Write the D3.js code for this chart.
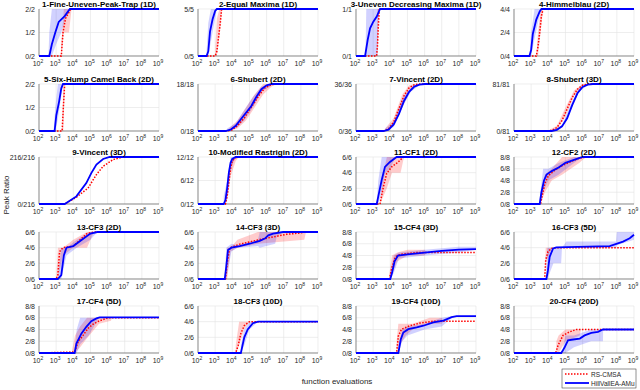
<!DOCTYPE html>
<html>
<head>
<meta charset="utf-8">
<script src="https://cdn.jsdelivr.net/npm/d3@7"></script>
<style>
  body { margin: 0; background: #fff; }
  text { font-family: "Liberation Sans", Arial, sans-serif; }
</style>
</head>
<body>
<div id="chart"></div>
<script>
// panel titles and number of global optima
var titles = ["1-Fine-Uneven-Peak-Trap (1D)", "2-Equal Maxima (1D)", "3-Uneven Decreasing Maxima (1D)", "4-Himmelblau (2D)",
  "5-Six-Hump Camel Back (2D)", "6-Shubert (2D)", "7-Vincent (2D)", "8-Shubert (3D)",
  "9-Vincent (3D)", "10-Modified Rastrigin (2D)", "11-CF1 (2D)", "12-CF2 (2D)",
  "13-CF3 (2D)", "14-CF3 (3D)", "15-CF4 (3D)", "16-CF3 (5D)",
  "17-CF4 (5D)", "18-CF3 (10D)", "19-CF4 (10D)", "20-CF4 (20D)"];
var peaks = [2, 5, 1, 4, 2, 18, 36, 81, 216, 12, 6, 8, 6, 6, 8, 6, 8, 6, 8, 8];
var yTicks = [[0, 1, 2], [0, 5], [0, 1], [0, 2, 4], [0, 1, 2], [0, 18], [0, 36], [0, 81], [0, 216], [0, 6, 12],
  [0, 2, 4, 6], [0, 2, 4, 6, 8], [0, 2, 4, 6], [0, 2, 4, 6], [0, 2, 4, 6, 8], [0, 2, 4, 6], [0, 2, 4, 6, 8],
  [0, 2, 4, 6], [0, 2, 4, 6, 8], [0, 2, 4, 6, 8]];
var xExponents = [2, 3, 4, 5, 6, 7, 8, 9];

// median curves: [log10(evaluations), peaks found]
var rsLine = [
  [[2,0],[3.3,0],[3.4,1],[3.55,1.6],[3.7,1.8],[3.85,2],[9,2]],
  [[2,0],[3.0,0],[3.1,0.5],[3.2,2],[3.3,3.5],[3.38,5],[9,5]],
  [[2,0],[3.2,0],[3.25,0.2],[3.3,0.6],[3.36,1],[9,1]],
  [[2,0],[3.3,0],[3.4,0.8],[3.5,2],[3.6,3.4],[3.7,4],[9,4]],
  [[2,0],[3.35,0],[3.42,1],[3.5,2],[9,2]],
  [[2,0],[3.7,0],[4.0,0.5],[4.3,2],[4.7,5],[5.0,8],[5.3,11],[5.6,14],[5.9,16.5],[6.3,17.8],[6.6,18],[9,18]],
  [[2,0],[3.6,0],[3.9,1.5],[4.2,7],[4.5,17],[4.8,27],[5.1,33],[5.4,35.5],[5.7,36],[9,36]],
  [[2,0],[3.9,0],[4.2,1],[4.5,6],[4.8,18],[5.1,38],[5.4,58],[5.7,72],[6.0,79],[6.3,81],[9,81]],
  [[2,0],[3.5,0],[4.18,31],[4.86,73],[5.35,135],[5.74,173],[6.32,204],[6.9,216],[9,216]],
  [[2,0],[3.6,0],[3.7,2],[3.8,5.5],[3.9,9],[4.0,11],[4.2,11.8],[4.4,12],[9,12]],
  [[2,0],[3.4,0],[3.6,2.2],[3.79,3.9],[4.08,4.74],[4.47,5.37],[4.76,6],[9,6]],
  [[2,0],[3.55,0],[3.65,1.5],[3.8,3.5],[4.0,4.8],[4.4,5.8],[4.8,6.5],[5.3,7.2],[5.8,7.8],[6.2,8],[9,8]],
  [[2,0],[3.0,0],[3.1,0.5],[3.2,3.5],[3.4,4],[4.0,4.2],[4.4,5],[4.8,5.8],[5.2,6],[9,6]],
  [[2,0],[3.6,0],[3.7,2],[3.85,4],[4.43,4.45],[5.6,5.03],[6.38,5.37],[7.16,5.7],[7.93,5.87],[8.3,6],[9,6]],
  [[2,0],[3.95,0],[4.1,2],[4.3,3.8],[4.6,4.2],[5.5,4.5],[9,4.5]],
  [[2,0],[3.79,0],[3.85,2.4],[3.98,3.48],[4.18,3.91],[4.47,4],[9,4]],
  [[2,0],[4.08,0.17],[4.28,1.9],[4.57,3.0],[4.86,4.2],[5.15,4.9],[5.54,5.5],[5.93,5.9],[6.12,6],[9,6]],
  [[2,0],[4.2,0],[4.35,1],[4.5,2.5],[4.7,3.5],[5.0,4],[9,4]],
  [[2,0],[4.37,0],[4.47,2.9],[4.66,4.06],[5.15,4.64],[5.74,5.1],[6.51,5.4],[9,5.4]],
  [[2,0],[4.43,0],[4.57,1.3],[4.86,3.0],[5.25,3.6],[5.64,4.0],[9,4]]
];
var hvLine = [
  [[2,0],[2.6,0],[2.75,0.5],[2.95,1],[3.15,1.45],[3.5,1.7],[3.8,2],[9,2]],
  [[2,0],[2.5,0],[2.6,0.5],[2.7,2.6],[2.85,3.9],[3.0,4.8],[3.1,5],[9,5]],
  [[2,0],[2.53,0],[2.68,0.34],[2.82,0.59],[3.01,0.73],[3.21,0.84],[3.4,1],[9,1]],
  [[2,0],[2.9,0],[3.0,0.5],[3.1,1.9],[3.3,3.1],[3.5,3.8],[3.6,4],[9,4]],
  [[2,0],[2.91,0],[3.01,0.67],[3.17,1.24],[3.3,1.81],[3.4,2],[9,2]],
  [[2,0],[3.6,0],[3.9,0.5],[4.2,2],[4.5,4.5],[4.8,7],[5.1,9.5],[5.4,13],[5.7,16],[6.0,17.5],[6.3,18],[9,18]],
  [[2,0],[3.6,0],[3.9,1],[4.2,5],[4.5,13],[4.8,23],[5.1,30],[5.4,34],[5.7,35.5],[6.0,36],[9,36]],
  [[2,0],[4.2,0],[4.5,2],[4.8,8],[5.1,22],[5.4,45],[5.7,65],[6.0,76],[6.3,80],[6.6,81],[9,81]],
  [[2,0],[3.5,0],[4.18,35],[4.76,96],[5.05,142],[5.35,181],[5.74,207],[6.12,216],[9,216]],
  [[2,0],[3.5,0],[3.6,1],[3.7,4],[3.8,8],[3.9,10.5],[4.0,11.5],[4.2,12],[9,12]],
  [[2,0],[3.21,0],[3.3,0.97],[3.5,3.06],[3.69,4.74],[3.98,5.37],[4.37,6],[9,6]],
  [[2,0],[3.5,0],[3.6,2],[3.75,4],[3.9,5],[4.2,5.6],[4.6,6.2],[5.0,7],[5.5,7.5],[6.0,8],[9,8]],
  [[2,0],[3.1,0],[3.3,0.5],[3.45,3],[3.6,4],[4.0,4.2],[4.5,5],[5.0,5.8],[5.4,6],[9,6]],
  [[2,0],[3.56,0],[3.65,1.6],[3.75,3.7],[3.95,4],[4.43,4.2],[5.02,4.5],[5.6,4.87],[5.9,5.16],[6.1,5.58],[6.38,5.8],[6.96,6],[9,6]],
  [[2,0],[4.0,0],[4.1,1],[4.25,3],[4.45,4],[5,4.2],[6,4.5],[7,4.8],[8,5],[9,5.1]],
  [[2,0],[3.89,0],[3.98,1.09],[4.08,2.83],[4.28,3.9],[4.47,4.04],[7.58,4.2],[7.97,4.48],[8.36,4.78],[8.75,5.2],[9,5.65]],
  [[2,0],[4.08,0],[4.18,1.6],[4.47,3.3],[4.76,4.46],[5.05,5.43],[5.35,5.9],[5.54,6.06],[9,6.06]],
  [[2,0],[4.5,0],[4.6,1],[4.7,2],[4.9,3],[5.2,3.8],[5.5,4],[9,4]],
  [[2,0],[4.47,0],[4.61,2.3],[4.76,3.48],[5.05,4.06],[5.54,4.35],[5.93,4.64],[6.51,5.2],[7.1,5.5],[7.58,6.1],[7.87,6.26],[9,6.26]],
  [[2,0],[4.76,0],[4.96,1.0],[5.15,2.17],[5.45,2.3],[5.84,2.46],[6.12,3.0],[6.51,3.43],[6.9,3.6],[7.19,4],[9,4]]
];

// spread bands: [log10(evaluations), low, high]
var rsBand = [
  [[3.3,0,0.5],[3.45,1,2],[3.75,1,2],[3.9,2,2]],
  [[3.0,0,0.5],[3.1,0,4],[3.25,2,5],[3.4,5,5]],
  [[3.2,0,0],[3.25,0,1],[3.36,1,1]],
  [[3.3,0,0],[3.4,0,2],[3.55,2,4],[3.7,4,4]],
  [[3.35,0,0],[3.42,0,2],[3.5,2,2]],
  [[3.8,0,1],[4.3,1,4],[4.8,4,9],[5.3,9,14],[5.8,14,18],[6.3,17,18],[6.6,18,18]],
  [[3.7,0,2],[4.2,4,10],[4.7,18,28],[5.1,30,35],[5.5,35,36],[5.7,36,36]],
  [[4.0,0,1],[4.5,3,9],[5.0,25,40],[5.5,60,70],[6.0,77,81],[6.3,81,81]],
  [],
  [[3.6,0,1],[3.75,2,7],[3.9,7,11],[4.2,11,12],[4.4,12,12]],
  [[3.4,0,0],[3.6,1,4],[3.8,2,6],[4.1,4,6],[4.6,4,6],[4.8,6,6]],
  [[3.55,0,1],[3.8,2,5],[4.2,4,6],[4.8,5,8],[5.8,7,8],[6.2,8,8]],
  [[3.0,0,0],[3.1,0,4],[3.4,3,4],[4.0,4,5],[4.8,4,6],[5.2,6,6]],
  [[3.6,0,0],[3.7,0,4],[3.9,3.5,4],[4.3,4,5],[5.5,4.5,6],[8.2,5,6],[8.3,6,6]],
  [[3.95,0,1],[4.1,1,4],[4.4,3,4.5],[5,4,5],[6,4,5],[6.1,4.5,4.5]],
  [[3.78,0,0],[3.85,2,4],[4.2,4,4]],
  [[3.9,0,0],[4.1,0,3],[4.4,1,4.5],[4.8,2.5,6],[5.5,5,6],[6.2,5.5,6],[6.25,6,6]],
  [[4.2,0,1],[4.4,1,4],[4.7,3,4],[5.0,4,4]],
  [[4.37,0,2],[4.47,1,5],[4.9,3,5],[5.3,4,5],[6.3,5,6],[7.0,5,6],[7.1,5.4,5.4]],
  [[4.47,0,2],[4.6,0,3],[5.0,2,4],[5.84,3,4],[5.9,4,4]]
];
var hvBand = [
  [[2.55,0,0],[2.6,0,1],[2.75,0,2],[3.0,0.5,2],[3.3,1,2],[3.5,1.5,2],[3.8,2,2]],
  [[2.5,0,0.5],[2.6,0,3.5],[2.75,1.5,5],[2.95,3.5,5],[3.1,5,5]],
  [[2.55,0,0],[2.6,0,1],[3.25,0,1],[3.3,1,1]],
  [[2.9,0,0],[3.0,0,2],[3.2,1.5,4],[3.5,3.5,4],[3.6,4,4]],
  [[2.85,0,0],[2.95,0,1],[3.1,0.5,2],[3.4,2,2]],
  [[3.7,0,1],[4.2,1,3],[4.7,4,8],[5.2,9,13],[5.7,15,17],[6.2,17,18],[6.3,18,18]],
  [[3.7,0,2],[4.2,3,7],[4.7,18,25],[5.2,30,33],[5.7,35,36],[6.0,36,36]],
  [[4.3,0,2],[4.8,6,10],[5.3,35,45],[5.8,68,74],[6.3,79,81],[6.6,81,81]],
  [],
  [[3.5,0,2],[3.7,2,6],[3.9,9,12],[4.2,12,12]],
  [[3.2,0,0],[3.3,0,3],[3.5,1.5,6],[3.7,4,6],[4.0,4.5,6],[4.3,6,6]],
  [[3.5,0,1],[3.7,2,6],[4.0,4,6],[4.6,5,7],[5.5,7,8],[6.0,8,8]],
  [[3.1,0,0],[3.3,0,4],[3.6,3,4],[4.2,4,5],[5.0,5,6],[5.4,6,6]],
  [[3.55,0,0],[3.65,0,4],[3.95,3.5,4.5],[4.3,4,4.3],[5.5,4.2,5],[5.6,4,6],[6.5,4.5,6],[6.6,5.5,6],[7,6,6]],
  [[4.0,0,1],[4.2,1,4],[4.5,3.5,4.5],[6,4,5],[8,4.5,5.5],[9,5,5.5]],
  [[3.85,0,0],[3.95,0,4],[4.3,2,4],[4.75,2,4],[4.8,4,4],[5.05,4,4.8],[7.95,4,4.8],[8.0,4.3,6],[9,5,6]],
  [[4.05,0,0],[4.2,0,4],[4.4,1.5,6],[4.9,3,6],[5.3,5,6],[5.5,6,6]],
  [[4.5,0,1],[4.7,1,3],[5.0,3,4],[5.5,4,4]],
  [[4.47,0,1],[4.7,2,4],[5.0,3,4.5],[6.0,4,5],[7.0,4.5,6],[7.6,6,6.3],[7.9,6.26,6.26]],
  [[4.86,0,1],[5.0,0,3],[5.5,1,3],[6.5,2,4],[7.19,2,4],[7.2,4,4]]
];

var width = 640, height = 390;
var colLeft = [39, 198, 356, 514], rowTop = [9, 84, 157, 232, 306];
var pw = 120, ph = 47;
var red = "#ff0000", blue = "#0000ff", axisColor = "#262626";

var svg = d3.select("#chart").append("svg")
  .attr("width", width)
  .attr("height", height);

titles.forEach(function (title, i) {
  var g = svg.append("g")
    .attr("transform", `translate(${colLeft[i % 4]}, ${rowTop[Math.floor(i / 4)]})`);

  var x = d3.scaleLog().domain([1e2, 1e9]).range([0, pw]);
  var y = d3.scaleLinear().domain([0, peaks[i]]).range([ph, 0]);
  var xs = e => x(Math.pow(10, e));

  // grid
  g.selectAll(".vg").data(xExponents).enter().append("line")
    .attr("x1", d => xs(d)).attr("x2", d => xs(d))
    .attr("y1", 0).attr("y2", ph)
    .attr("stroke", "#e3e3e3").attr("stroke-width", 0.6);
  g.selectAll(".hg").data(yTicks[i]).enter().append("line")
    .attr("x1", 0).attr("x2", pw)
    .attr("y1", d => y(d)).attr("y2", d => y(d))
    .attr("stroke", "#e3e3e3").attr("stroke-width", 0.6);

  // bands
  var area = d3.area().x(d => xs(d[0])).y0(d => y(d[1])).y1(d => y(d[2]));
  g.append("path").datum(rsBand[i]).attr("d", area)
    .attr("fill", red).attr("fill-opacity", 0.2);
  g.append("path").datum(hvBand[i]).attr("d", area)
    .attr("fill", blue).attr("fill-opacity", 0.18);

  // axes
  g.append("line").attr("x1", 0).attr("x2", pw).attr("y1", ph).attr("y2", ph)
    .attr("stroke", axisColor).attr("stroke-width", 0.5);
  g.append("line").attr("x1", 0).attr("x2", 0).attr("y1", 0).attr("y2", ph)
    .attr("stroke", axisColor).attr("stroke-width", 0.5);

  var xt = g.selectAll(".xt").data(xExponents).enter().append("text")
    .attr("x", d => xs(d) - 1)
    .attr("y", ph + 10)
    .attr("text-anchor", "middle")
    .attr("font-size", 7)
    .attr("fill", axisColor)
    .text("10");
  xt.append("tspan").attr("dy", -3).attr("font-size", 5).text(d => d);

  g.selectAll(".yt").data(yTicks[i]).enter().append("text")
    .attr("x", -4)
    .attr("y", d => y(d) + 2.5)
    .attr("text-anchor", "end")
    .attr("font-size", 7)
    .attr("fill", axisColor)
    .text(d => d + "/" + peaks[i]);

  // lines
  var line = d3.line().x(d => xs(d[0])).y(d => y(d[1]));
  g.append("path").datum(rsLine[i]).attr("d", line)
    .attr("fill", "none").attr("stroke", red)
    .attr("stroke-width", 1.5).attr("stroke-dasharray", "1.5,1.5");
  g.append("path").datum(hvLine[i]).attr("d", line)
    .attr("fill", "none").attr("stroke", blue).attr("stroke-width", 1.8);

  g.append("text")
    .attr("x", pw / 2).attr("y", -2)
    .attr("text-anchor", "middle")
    .attr("font-size", 8).attr("font-weight", "bold")
    .attr("fill", "#000")
    .text(title);
});

svg.append("text")
  .attr("transform", "translate(9, 195) rotate(-90)")
  .attr("text-anchor", "middle")
  .attr("font-size", 8)
  .attr("fill", axisColor)
  .text("Peak Ratio");

svg.append("text")
  .attr("x", 337).attr("y", 384)
  .attr("text-anchor", "middle")
  .attr("font-size", 8)
  .attr("fill", axisColor)
  .text("function evaluations");

// legend
var legend = svg.append("g").attr("transform", "translate(562, 369)");
legend.append("rect").attr("width", 74).attr("height", 19)
  .attr("fill", "#fff").attr("stroke", axisColor).attr("stroke-width", 0.5);
var items = [["RS-CMSA", red, "1.5,1.5"], ["HillVallEA-AMu", blue, null]];
items.forEach(function (d, k) {
  legend.append("line")
    .attr("x1", 3).attr("x2", 27)
    .attr("y1", 5 + k * 9).attr("y2", 5 + k * 9)
    .attr("stroke", d[1]).attr("stroke-width", k ? 1.8 : 1.5)
    .attr("stroke-dasharray", d[2]);
  legend.append("text")
    .attr("x", 29).attr("y", 7.5 + k * 9)
    .attr("font-size", 6.5)
    .attr("fill", axisColor)
    .text(d[0]);
});
</script>
</body>
</html>
